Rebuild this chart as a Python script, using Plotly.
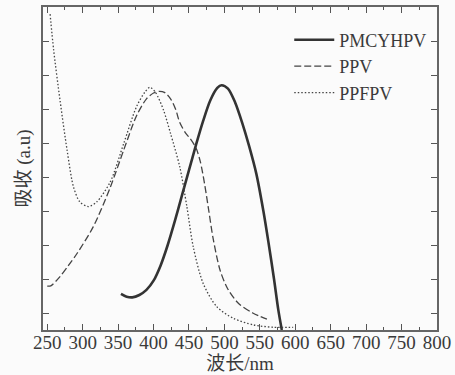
import plotly.graph_objects as go

# Data (wavelength nm, absorbance a.u.)
pmcyhpv_x = [354, 362, 370, 380, 390, 400, 410, 420, 430, 440, 450, 460, 470, 480, 490, 496, 505, 515, 525, 535, 545, 555, 562, 570, 576, 581]
pmcyhpv_y = [1.06, 0.98, 0.96, 1.03, 1.18, 1.45, 1.9, 2.5, 3.2, 3.95, 4.7, 5.45, 6.15, 6.75, 7.12, 7.2, 7.1, 6.7, 6.1, 5.4, 4.6, 3.5, 2.6, 1.5, 0.6, 0.0]

ppv_x = [250, 255, 268, 280, 292, 315, 339, 358, 376, 390, 400, 408, 416, 424, 431, 437, 445, 452, 460, 466, 472, 478, 484, 494, 505, 520, 540, 560]
ppv_y = [1.29, 1.3, 1.57, 1.9, 2.25, 3.04, 4.2, 5.3, 6.3, 6.8, 6.97, 7.02, 6.98, 6.8, 6.5, 6.1, 5.8, 5.62, 5.35, 4.95, 4.3, 3.5, 2.7, 1.75, 1.2, 0.78, 0.5, 0.32]

ppfpv_x = [254, 259, 268, 278, 287, 296, 308, 320, 339, 358, 376, 388, 395, 403, 414, 424, 437, 447, 456, 470, 489, 513, 541, 569, 597]
ppfpv_y = [9.29, 8.24, 6.76, 5.29, 4.21, 3.77, 3.63, 3.77, 4.36, 5.49, 6.57, 7.0, 7.14, 6.98, 6.47, 5.78, 4.8, 3.63, 2.45, 1.37, 0.69, 0.34, 0.15, 0.08, 0.08]

x_ticks = list(range(250, 801, 50))
y_ticks = [0.5, 1.5, 2.5, 3.5, 4.5, 5.5, 6.5, 7.5, 8.5]

serif = "Liberation Serif, Noto Sans CJK SC, serif"
ink = "#3a3a3a"

fig = go.Figure()
fig.add_trace(go.Scatter(x=pmcyhpv_x, y=pmcyhpv_y, mode="lines", name="PMCYHPV",
                         line=dict(color="#333333", width=2.6, shape="spline", smoothing=0.8)))
fig.add_trace(go.Scatter(x=ppv_x, y=ppv_y, mode="lines", name="PPV",
                         line=dict(color="#444444", width=1.3, dash="7px,3px", shape="spline", smoothing=0.8)))
fig.add_trace(go.Scatter(x=ppfpv_x, y=ppfpv_y, mode="lines", name="PPFPV",
                         line=dict(color="#444444", width=1.3, dash="1.5px,2px", shape="spline", smoothing=0.8)))

fig.update_layout(
    width=455, height=375,
    margin=dict(l=43, r=18, t=7, b=45, autoexpand=False),
    paper_bgcolor="#fbfbfb", plot_bgcolor="#fbfbfb",
    font=dict(family=serif, size=19, color=ink),
    showlegend=True,
    legend=dict(x=0.625, y=0.955, xanchor="left", yanchor="top",
                bgcolor="rgba(0,0,0,0)", font=dict(size=18, family=serif, color=ink),
                itemwidth=40, tracegroupgap=0),
)
fig.update_xaxes(
    range=[244, 800], tickvals=x_ticks, ticktext=[str(v) for v in x_ticks],
    ticks="inside", ticklen=6, tickwidth=1.3, tickcolor="#555",
    minor=dict(dtick=25, tick0=250, ticks="inside", ticklen=3, tickwidth=1.2, tickcolor="#555"),
    showline=True, linecolor="#666", linewidth=1.6, mirror="ticks",
    showgrid=False, zeroline=False, automargin=False,
    tickfont=dict(size=19, family=serif, color=ink), ticklabelstandoff=-6,
    title=dict(text="波长/nm", font=dict(size=19, family=serif, color=ink), standoff=0),
)
fig.update_yaxes(
    range=[0, 9.5], tickvals=y_ticks, showticklabels=False,
    ticks="inside", ticklen=6, tickwidth=1.3, tickcolor="#555",
    showline=True, linecolor="#666", linewidth=1.6, mirror="ticks",
    showgrid=False, zeroline=False, automargin=False,
    title=dict(text="吸收 (a.u)", font=dict(size=19, family=serif, color=ink), standoff=6),
)

fig.write_html("out.html", config={"displayModeBar": False},
               post_script="document.body.style.margin='0';document.body.style.background='#fbfbfb';")
